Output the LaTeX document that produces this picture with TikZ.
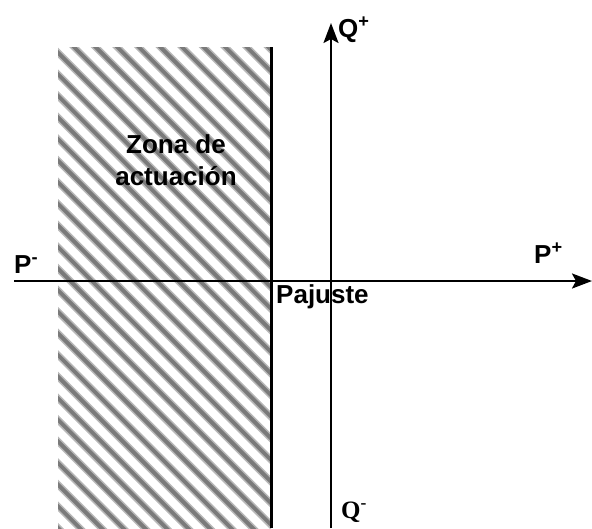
\documentclass[tikz,border=0pt]{standalone}
\usepackage{fontspec}
\setmainfont{Liberation Sans}
\newfontfamily\serifbf{Liberation Serif}
\usetikzlibrary{arrows.meta}
\begin{document}
\begin{tikzpicture}[x=1pt,y=-1pt,
  lbl/.style={inner sep=0pt,anchor=base west,font=\fontsize{26}{30}\selectfont\bfseries},
  axis/.style={line width=2.4pt,-{Stealth[length=20pt,width=15pt,inset=4pt]}},
  stripeA/.style={line width=7pt,color=black!28},
  stripeB/.style={line width=3.8pt,color=black!52}]
\useasboundingbox (0,0) rectangle (592,528);
% hatched zone
\begin{scope}
  \clip (58,47) rectangle (271,528);
  \foreach \k in {-24,...,10}{
    \draw[stripeA] ({27+21.6*\k},0) -- ({627+21.6*\k},600);
    \draw[stripeB] ({27+21.6*\k},0) -- ({627+21.6*\k},600);
  }
\end{scope}
% nodes / coordinates
\coordinate (zt) at (271,47);
\coordinate (zb) at (271,528);
\coordinate (hl) at (14,281);
\coordinate (hr) at (592,281);
\coordinate (vb) at (331,528);
\coordinate (vt) at (331,23);
\draw[line width=3pt] (zt) -- (zb);
\draw[axis] (hl) -- (hr);
\draw[axis] (vb) -- (vt);
% labels
\node[lbl] (pm) at (14,273) {P\textsuperscript{-}};
\node[lbl] (pp) at (534,263) {P\textsuperscript{+}};
\node[lbl] (qp) at (338,37) {Q\textsuperscript{+}};
\node[lbl,font=\fontsize{25}{30}\selectfont\serifbf\bfseries] (qm) at (341,518) {Q\textsuperscript{-}};
\node[lbl] (pa) at (276,303) {Pajuste};
\node[lbl,anchor=base] (z1) at (176,153) {Zona de};
\node[lbl,anchor=base] (z2) at (176,185) {actuación};
\end{tikzpicture}
\end{document}
